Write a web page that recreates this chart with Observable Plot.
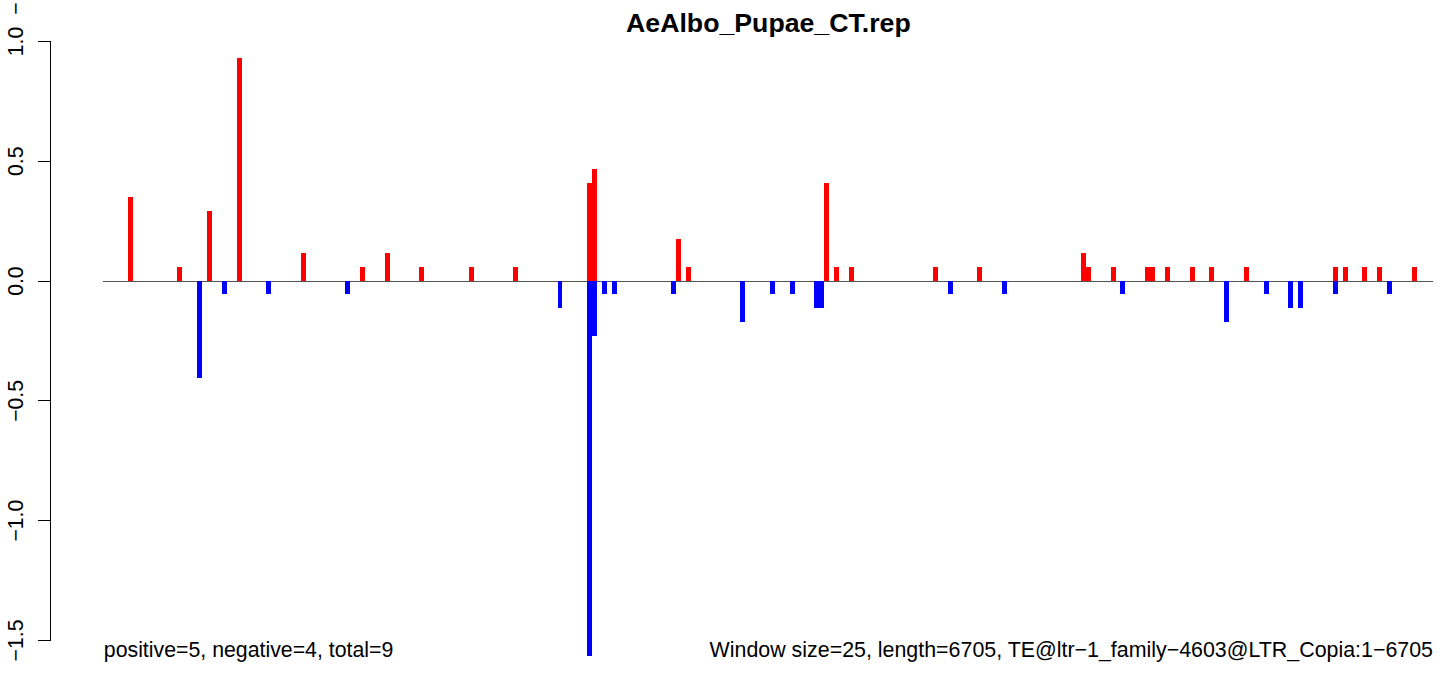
<!DOCTYPE html>
<html><head><meta charset="utf-8">
<script src="https://cdn.jsdelivr.net/npm/d3@7"></script>
<script src="https://cdn.jsdelivr.net/npm/@observablehq/plot@0.6"></script>
<style>body{margin:0;background:#fff} svg{display:block}</style>
</head><body><div id="chart"></div>
<script>
const TITLE = "AeAlbo_Pupae_CT.rep";
const WINDOW = 25;
const LENGTH = 6705;
const leftNote = "positive=5, negative=4, total=9";
const rightNote = "Window size=25, length=6705, TE@ltr\u22121_family\u22124603@LTR_Copia:1\u22126705";

// window indices and values (positive strand, red)
const posWin = [5,15,21,27,40,52,57,64,74,83,98,99,116,118,146,148,151,168,177,198,199,204,211,212,215,220,224,231,249,251,255,258,265];
const posVal = [0.348,0.058,0.29,0.928,0.116,0.058,0.116,0.058,0.058,0.058,0.406,0.464,0.174,0.058,0.406,0.058,0.058,0.058,0.058,0.116,0.058,0.058,0.058,0.058,0.058,0.058,0.058,0.058,0.058,0.058,0.058,0.058,0.058];
// negative strand, blue
const negWin = [19,24,33,49,92,98,99,101,103,115,129,135,139,144,145,171,182,206,227,235,240,242,249,260];
const negVal = [-0.406,-0.058,-0.058,-0.058,-0.116,-1.566,-0.232,-0.058,-0.058,-0.058,-0.174,-0.058,-0.058,-0.116,-0.116,-0.058,-0.058,-0.058,-0.174,-0.058,-0.116,-0.116,-0.058,-0.058];

const yTicks = [-1.5, -1.0, -0.5, 0.0, 0.5, 1.0];
const yLabels = ["\u22121.5", "\u22121.0", "\u22120.5", "0.0", "0.5", "1.0"];

const xEnd = LENGTH + WINDOW;
const bars = [
  ...posWin.map((w, i) => ({x1: w * WINDOW, x2: (w + 1) * WINDOW, v: posVal[i], c: "#FF0000"})),
  ...negWin.map((w, i) => ({x1: w * WINDOW, x2: (w + 1) * WINDOW, v: negVal[i], c: "#0000FF"}))
];

const chart = Plot.plot({
  width: 1444, height: 677,
  marginLeft: 50, marginRight: 0, marginTop: 41, marginBottom: 37,
  style: {fontFamily: "'Liberation Sans', Arial, sans-serif", fontSize: "21px", background: "white", color: "black", overflow: "visible"},
  x: {domain: [0, xEnd], range: [103.3, 1432.5], axis: null},
  y: {domain: [-1.5, 1.0], axis: null},
  marks: [
    Plot.frame({anchor: "left", stroke: "black", shapeRendering: "crispEdges"}),
    Plot.axisY({ticks: yTicks, tickSize: 12, tickFormat: () => "", label: null, stroke: "black", shapeRendering: "crispEdges"}),
    Plot.text(yTicks, {y: d => d, text: (d, i) => yLabels[i], frameAnchor: "left", rotate: -90, dx: -28, lineAnchor: "bottom", textAnchor: "middle", fill: "black", fontSize: 21.2}),
    Plot.text(["\u2212"], {frameAnchor: "top-left", rotate: -90, dx: -28, dy: -33, lineAnchor: "bottom", textAnchor: "middle", fill: "black", fontSize: 21.2}),
    Plot.ruleY([{y: 0, a: 0, b: xEnd}], {y: "y", x1: "a", x2: "b", stroke: "#555", strokeWidth: 1, shapeRendering: "crispEdges"}),
    Plot.rectY(bars, {x1: "x1", x2: "x2", y1: 0, y2: "v", fill: "c", shapeRendering: "crispEdges", inset: 0}),
    Plot.text([TITLE], {x: xEnd / 2, frameAnchor: "top", dy: -10, lineAnchor: "bottom", textAnchor: "middle", fontWeight: "bold", fontSize: 26.7, fill: "black"}),
    Plot.text([leftNote], {x: 0, frameAnchor: "bottom", dy: 16, lineAnchor: "bottom", textAnchor: "start", fill: "black", fontSize: 21.3}),
    Plot.text([rightNote], {x: xEnd, frameAnchor: "bottom", dy: 16, lineAnchor: "bottom", textAnchor: "end", fill: "black", fontSize: 21.4})
  ]
});
document.getElementById("chart").appendChild(chart);
</script>
</body></html>
